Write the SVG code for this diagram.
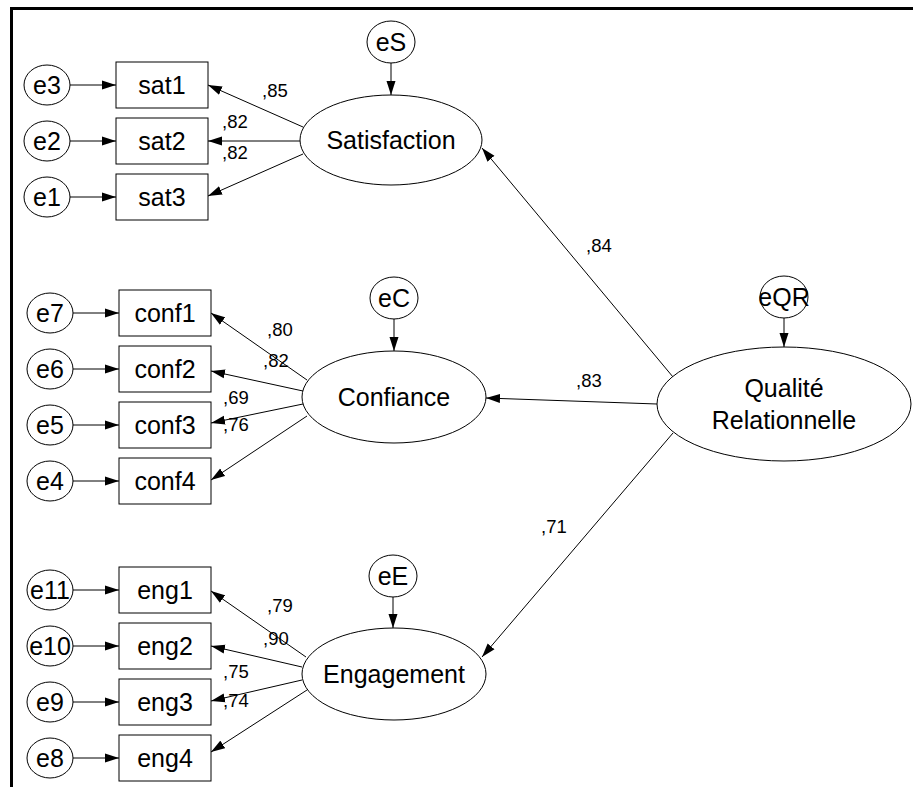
<svg xmlns="http://www.w3.org/2000/svg" width="913" height="787" viewBox="0 0 913 787">
<defs>
<marker id="ah" markerUnits="userSpaceOnUse" markerWidth="14" markerHeight="10" refX="14" refY="5" orient="auto">
<path d="M0,0.5 L14,5 L0,9.5 z" fill="#000"/>
</marker>
<style>
.n{fill:#fff;stroke:#000;stroke-width:1}
.t{font-family:"Liberation Sans",Arial,sans-serif;font-size:25px;fill:#000;text-anchor:middle}
.c{font-family:"Liberation Sans",Arial,sans-serif;font-size:18.5px;fill:#000}
.l{stroke:#000;stroke-width:1;fill:none;marker-end:url(#ah)}
.b{stroke:#000;stroke-width:3;fill:none}
</style>
</defs>
<rect width="913" height="787" fill="#fff"/>
<path class="b" d="M11.5,787 V8.5 H913"/>
<g id="connectors">
<line class="l" x1="70" y1="85" x2="116" y2="85"/>
<line class="l" x1="70" y1="141" x2="116" y2="141"/>
<line class="l" x1="70" y1="197" x2="116" y2="197"/>
<line class="l" x1="73" y1="313" x2="119" y2="313"/>
<line class="l" x1="73" y1="369" x2="119" y2="369"/>
<line class="l" x1="73" y1="425" x2="119" y2="425"/>
<line class="l" x1="73" y1="481" x2="119" y2="481"/>
<line class="l" x1="73" y1="590" x2="119" y2="590"/>
<line class="l" x1="73" y1="646" x2="119" y2="646"/>
<line class="l" x1="73" y1="702" x2="119" y2="702"/>
<line class="l" x1="73" y1="758" x2="119" y2="758"/>
<line class="l" x1="303" y1="127" x2="208" y2="85"/>
<line class="l" x1="300" y1="141" x2="208" y2="141"/>
<line class="l" x1="303" y1="154" x2="208" y2="196"/>
<line class="l" x1="307" y1="380" x2="211" y2="313"/>
<line class="l" x1="303" y1="391" x2="211" y2="371"/>
<line class="l" x1="303" y1="404" x2="211" y2="423"/>
<line class="l" x1="307" y1="416" x2="211" y2="480"/>
<line class="l" x1="306" y1="657" x2="211" y2="591"/>
<line class="l" x1="302" y1="667" x2="211" y2="646"/>
<line class="l" x1="302" y1="680" x2="211" y2="701"/>
<line class="l" x1="307" y1="690" x2="211" y2="752"/>
<line class="l" x1="391" y1="63" x2="391" y2="95"/>
<line class="l" x1="394" y1="319" x2="394" y2="351"/>
<line class="l" x1="393" y1="597" x2="393" y2="628"/>
<line class="l" x1="784" y1="318" x2="784" y2="347"/>
<line class="l" x1="673" y1="377" x2="482" y2="148"/>
<line class="l" x1="657" y1="404" x2="486" y2="398"/>
<line class="l" x1="673" y1="433" x2="482" y2="657"/>
</g>
<g id="coefficients">
<text class="c" x="262" y="97">,85</text>
<text class="c" x="222" y="128">,82</text>
<text class="c" x="222" y="159">,82</text>
<text class="c" x="267" y="336">,80</text>
<text class="c" x="263" y="367">,82</text>
<text class="c" x="223" y="404">,69</text>
<text class="c" x="223" y="431">,76</text>
<text class="c" x="267" y="612">,79</text>
<text class="c" x="263" y="645">,90</text>
<text class="c" x="223" y="678">,75</text>
<text class="c" x="223" y="707">,74</text>
<text class="c" x="586" y="252">,84</text>
<text class="c" x="576" y="387">,83</text>
<text class="c" x="541" y="533">,71</text>
</g>
<g id="e3"><ellipse class="n" cx="47" cy="85" rx="23" ry="20"/><text class="t" x="47" y="94">e3</text></g>
<g id="e2"><ellipse class="n" cx="47" cy="141" rx="23" ry="20"/><text class="t" x="47" y="150">e2</text></g>
<g id="e1"><ellipse class="n" cx="47" cy="197" rx="23" ry="20"/><text class="t" x="47" y="206">e1</text></g>
<g id="sat1"><rect class="n" x="116" y="62" width="92" height="46"/><text class="t" x="162" y="94">sat1</text></g>
<g id="sat2"><rect class="n" x="116" y="118" width="92" height="46"/><text class="t" x="162" y="150">sat2</text></g>
<g id="sat3"><rect class="n" x="116" y="174" width="92" height="46"/><text class="t" x="162" y="206">sat3</text></g>
<g id="e7"><ellipse class="n" cx="50" cy="313" rx="23" ry="20"/><text class="t" x="50" y="322">e7</text></g>
<g id="e6"><ellipse class="n" cx="50" cy="369" rx="23" ry="20"/><text class="t" x="50" y="378">e6</text></g>
<g id="e5"><ellipse class="n" cx="50" cy="425" rx="23" ry="20"/><text class="t" x="50" y="434">e5</text></g>
<g id="e4"><ellipse class="n" cx="50" cy="481" rx="23" ry="20"/><text class="t" x="50" y="490">e4</text></g>
<g id="conf1"><rect class="n" x="119" y="290" width="92" height="46"/><text class="t" x="165" y="322">conf1</text></g>
<g id="conf2"><rect class="n" x="119" y="346" width="92" height="46"/><text class="t" x="165" y="378">conf2</text></g>
<g id="conf3"><rect class="n" x="119" y="402" width="92" height="46"/><text class="t" x="165" y="434">conf3</text></g>
<g id="conf4"><rect class="n" x="119" y="458" width="92" height="46"/><text class="t" x="165" y="490">conf4</text></g>
<g id="e11"><ellipse class="n" cx="50" cy="590" rx="23" ry="20"/><text class="t" x="50" y="599">e11</text></g>
<g id="e10"><ellipse class="n" cx="50" cy="646" rx="23" ry="20"/><text class="t" x="50" y="655">e10</text></g>
<g id="e9"><ellipse class="n" cx="50" cy="702" rx="23" ry="20"/><text class="t" x="50" y="711">e9</text></g>
<g id="e8"><ellipse class="n" cx="50" cy="758" rx="23" ry="20"/><text class="t" x="50" y="767">e8</text></g>
<g id="eng1"><rect class="n" x="119" y="567" width="92" height="46"/><text class="t" x="165" y="599">eng1</text></g>
<g id="eng2"><rect class="n" x="119" y="623" width="92" height="46"/><text class="t" x="165" y="655">eng2</text></g>
<g id="eng3"><rect class="n" x="119" y="679" width="92" height="46"/><text class="t" x="165" y="711">eng3</text></g>
<g id="eng4"><rect class="n" x="119" y="735" width="92" height="46"/><text class="t" x="165" y="767">eng4</text></g>
<g id="eS"><ellipse class="n" cx="391" cy="42" rx="24" ry="21"/><text class="t" x="391" y="51">eS</text></g>
<g id="Satisfaction"><ellipse class="n" cx="391" cy="140" rx="91" ry="45"/><text class="t" x="391" y="149">Satisfaction</text></g>
<g id="eC"><ellipse class="n" cx="394" cy="298" rx="24" ry="21"/><text class="t" x="394" y="307">eC</text></g>
<g id="Confiance"><ellipse class="n" cx="394" cy="397" rx="92" ry="46"/><text class="t" x="394" y="406">Confiance</text></g>
<g id="eE"><ellipse class="n" cx="393" cy="576" rx="24" ry="21"/><text class="t" x="393" y="585">eE</text></g>
<g id="Engagement"><ellipse class="n" cx="394" cy="674" rx="92" ry="46"/><text class="t" x="394" y="683">Engagement</text></g>
<g id="eQR"><ellipse class="n" cx="784" cy="297" rx="24" ry="21"/><text class="t" x="784" y="306">eQR</text></g>
<g id="QR"><ellipse class="n" cx="784" cy="404" rx="127" ry="57"/><text class="t" x="784" y="397">Qualité</text><text class="t" x="784" y="429">Relationnelle</text></g>
</svg>
